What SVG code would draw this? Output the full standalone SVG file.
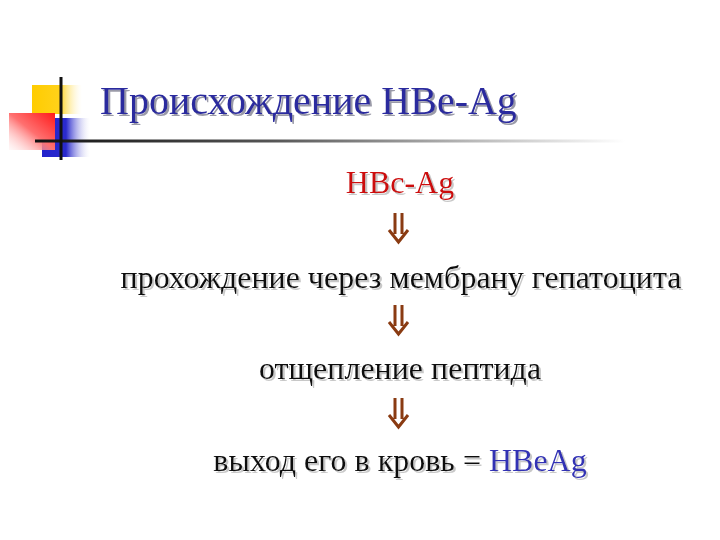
<svg xmlns="http://www.w3.org/2000/svg" width="720" height="540" viewBox="0 0 720 540">
<defs>
<style>
text{font-family:'Liberation Serif','Times New Roman',serif;}
.title{font-size:40px;fill:#2b2b9e;}
.body{font-size:32px;fill:#111;}
.arr{fill:none;stroke:#8a3b12;stroke-width:3;stroke-linecap:butt;}
</style>
<filter id="tsh" x="-5%" y="-20%" width="110%" height="150%">
<feOffset in="SourceAlpha" dx="2" dy="2" result="o"/>
<feFlood flood-color="#9a9aa8"/>
<feComposite in2="o" operator="in" result="s"/>
<feMerge><feMergeNode in="s"/><feMergeNode in="SourceGraphic"/></feMerge>
</filter>
<filter id="bsh" x="-5%" y="-20%" width="110%" height="150%">
<feOffset in="SourceAlpha" dx="1.5" dy="1.5" result="o"/>
<feFlood flood-color="#c8c8c8"/>
<feComposite in2="o" operator="in" result="s"/>
<feMerge><feMergeNode in="s"/><feMergeNode in="SourceGraphic"/></feMerge>
</filter>
<linearGradient id="gy" x1="0" y1="0" x2="1" y2="0">
<stop offset="0" stop-color="#ffcc00"/><stop offset="0.55" stop-color="#ffd21a"/><stop offset="1" stop-color="#fff4cc" stop-opacity="0"/>
</linearGradient>
<linearGradient id="gr" x1="1" y1="0" x2="0" y2="1">
<stop offset="0" stop-color="#ff1a1a"/><stop offset="0.5" stop-color="#ff7070"/><stop offset="1" stop-color="#ffe0e0" stop-opacity="0.2"/>
</linearGradient>
<linearGradient id="gb" x1="0" y1="0" x2="1" y2="0">
<stop offset="0" stop-color="#2222cc"/><stop offset="0.5" stop-color="#2a2acc"/><stop offset="1" stop-color="#dcdcf5" stop-opacity="0"/>
</linearGradient>
<linearGradient id="gl" x1="0" y1="0" x2="1" y2="0">
<stop offset="0" stop-color="#111"/><stop offset="0.4" stop-color="#555"/><stop offset="0.75" stop-color="#bbb"/><stop offset="1" stop-color="#fff"/>
</linearGradient>
</defs>
<rect width="720" height="540" fill="#fff"/>
<g id="decor">
<rect x="32" y="85" width="50" height="29" fill="url(#gy)"/>
<rect x="42" y="118" width="48" height="39" fill="url(#gb)"/>
<rect x="9" y="113" width="46" height="37" fill="url(#gr)"/>
<rect x="35" y="139.5" width="590" height="3" fill="url(#gl)"/>
<rect x="59.5" y="77" width="3" height="83" fill="#111"/>
</g>
<g id="title">
<text class="title" x="100" y="114" font-family="Liberation Serif, serif" filter="url(#tsh)">Происхождение HBe-Ag</text>
</g>
<g id="n1">
<text x="400" y="193" text-anchor="middle" font-family="Liberation Serif, serif" font-size="32" fill="#cc1111" filter="url(#bsh)">HBc-Ag</text>
</g>
<g id="n2">
<text class="body" x="401" y="288" text-anchor="middle" font-family="Liberation Serif, serif" filter="url(#bsh)">прохождение через мембрану гепатоцита</text>
</g>
<g id="n3">
<text class="body" x="400" y="379" text-anchor="middle" font-family="Liberation Serif, serif" filter="url(#bsh)">отщепление пептида</text>
</g>
<g id="n4">
<text class="body" x="400" y="471" text-anchor="middle" font-family="Liberation Serif, serif" filter="url(#bsh)">выход его в кровь = <tspan fill="#3232b4">HBeAg</tspan></text>
</g>
<g id="connectors">
<g class="arr">
<path d="M395 213V234M402 213V234M389 230L398.5 242L408 230"/>
<path d="M395 305V326M402 305V326M389 322L398.5 334L408 322"/>
<path d="M395 398V419M402 398V419M389 415L398.5 427L408 415"/>
</g>
</g>
</svg>
